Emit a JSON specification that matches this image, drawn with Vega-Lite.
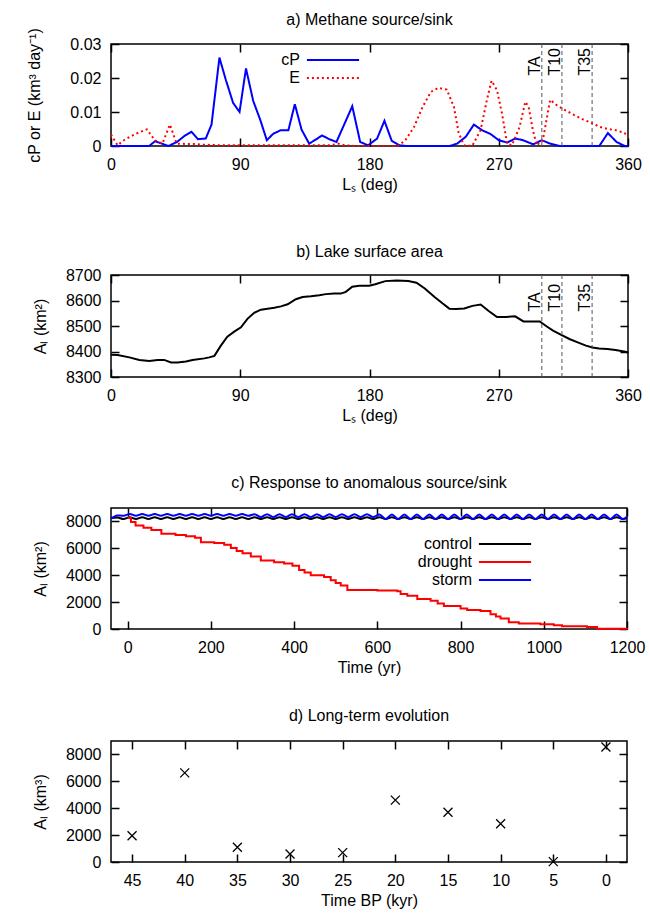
{
  "$schema": "https://vega.github.io/schema/vega-lite/v6.json",
  "background": "white",
  "padding": {"left": 26, "top": 10, "right": 5, "bottom": 2},
  "spacing": 31,
  "resolve": {"scale": {"color": "independent", "strokeDash": "independent"}, "legend": {"color": "independent", "strokeDash": "independent"}},
  "config": {
    "font": "Liberation Sans",
    "view": {"stroke": "#000000", "strokeWidth": 1.5},
    "axis": {"grid": false, "domain": false, "tickSize": -8, "tickWidth": 1.5, "tickColor": "#000000", "labelFontSize": 16, "labelColor": "#000000", "labelPadding": 18, "labelFlush": false, "labelOverlap": false, "titleFontSize": 16, "titleFontWeight": "normal", "titleColor": "#000000"},
    "axisX": {"titlePadding": 4},
    "axisY": {"titlePadding": 17},
    "title": {"fontSize": 16, "fontWeight": "normal", "color": "#000000", "offset": 16, "frame": "group"}
  },
  "datasets": {
    "methane": [
      {"Ls": 0, "value": 0, "series": "cP"}, {"Ls": 10, "value": 0, "series": "cP"}, {"Ls": 20, "value": 0, "series": "cP"}, {"Ls": 26.5, "value": 0, "series": "cP"}, {"Ls": 30.7, "value": 0.0014, "series": "cP"}, {"Ls": 40, "value": 0, "series": "cP"}, {"Ls": 46, "value": 0.0012, "series": "cP"}, {"Ls": 51, "value": 0.0029, "series": "cP"}, {"Ls": 56, "value": 0.0042, "series": "cP"}, {"Ls": 60.5, "value": 0.002, "series": "cP"}, {"Ls": 66, "value": 0.0022, "series": "cP"}, {"Ls": 70, "value": 0.0063, "series": "cP"}, {"Ls": 75.5, "value": 0.026, "series": "cP"}, {"Ls": 80, "value": 0.0194, "series": "cP"}, {"Ls": 85, "value": 0.0127, "series": "cP"}, {"Ls": 89.5, "value": 0.01, "series": "cP"}, {"Ls": 94, "value": 0.0228, "series": "cP"}, {"Ls": 99, "value": 0.0133, "series": "cP"}, {"Ls": 104, "value": 0.0076, "series": "cP"}, {"Ls": 108.5, "value": 0.0017, "series": "cP"}, {"Ls": 113, "value": 0.0036, "series": "cP"}, {"Ls": 118, "value": 0.0046, "series": "cP"}, {"Ls": 123.5, "value": 0.0046, "series": "cP"}, {"Ls": 128, "value": 0.0123, "series": "cP"}, {"Ls": 132.7, "value": 0.0048, "series": "cP"}, {"Ls": 138, "value": 0.0007, "series": "cP"}, {"Ls": 142.6, "value": 0.0019, "series": "cP"}, {"Ls": 147, "value": 0.0031, "series": "cP"}, {"Ls": 152, "value": 0.002, "series": "cP"}, {"Ls": 157, "value": 0.0012, "series": "cP"}, {"Ls": 168, "value": 0.0117, "series": "cP"}, {"Ls": 173.5, "value": 0.0012, "series": "cP"}, {"Ls": 179, "value": 0.0002, "series": "cP"}, {"Ls": 185.3, "value": 0.0022, "series": "cP"}, {"Ls": 190.4, "value": 0.0074, "series": "cP"}, {"Ls": 195.5, "value": 0.0015, "series": "cP"}, {"Ls": 200.8, "value": 0.0002, "series": "cP"}, {"Ls": 206, "value": 0, "series": "cP"}, {"Ls": 220, "value": 0, "series": "cP"}, {"Ls": 236, "value": 0, "series": "cP"}, {"Ls": 241, "value": 0.0007, "series": "cP"}, {"Ls": 247, "value": 0.0027, "series": "cP"}, {"Ls": 252.7, "value": 0.0063, "series": "cP"}, {"Ls": 258.5, "value": 0.0046, "series": "cP"}, {"Ls": 264, "value": 0.0036, "series": "cP"}, {"Ls": 270, "value": 0.0017, "series": "cP"}, {"Ls": 275.8, "value": 0.001, "series": "cP"}, {"Ls": 281.5, "value": 0.0022, "series": "cP"}, {"Ls": 287, "value": 0.0017, "series": "cP"}, {"Ls": 294, "value": 0.0005, "series": "cP"}, {"Ls": 300, "value": 0.0017, "series": "cP"}, {"Ls": 305.8, "value": 0.0007, "series": "cP"}, {"Ls": 312.7, "value": 0, "series": "cP"}, {"Ls": 325, "value": 0, "series": "cP"}, {"Ls": 340, "value": 0, "series": "cP"}, {"Ls": 346, "value": 0.0038, "series": "cP"}, {"Ls": 352, "value": 0.0012, "series": "cP"}, {"Ls": 357.7, "value": 0, "series": "cP"}, {"Ls": 360, "value": 0, "series": "cP"},
      {"Ls": 0, "value": 0.0034, "series": "E"}, {"Ls": 4.6, "value": 0.0002, "series": "E"}, {"Ls": 9, "value": 0.0017, "series": "E"}, {"Ls": 14, "value": 0.0029, "series": "E"}, {"Ls": 20, "value": 0.0041, "series": "E"}, {"Ls": 25, "value": 0.0049, "series": "E"}, {"Ls": 30.5, "value": 0.0017, "series": "E"}, {"Ls": 35.8, "value": 0.0007, "series": "E"}, {"Ls": 41, "value": 0.0063, "series": "E"}, {"Ls": 45.7, "value": 0.0007, "series": "E"}, {"Ls": 52, "value": 0.0006, "series": "E"}, {"Ls": 57.7, "value": 0.0006, "series": "E"}, {"Ls": 63.5, "value": 0.0004, "series": "E"}, {"Ls": 70, "value": 0.0003, "series": "E"}, {"Ls": 80, "value": 0.0002, "series": "E"}, {"Ls": 120, "value": 0.0002, "series": "E"}, {"Ls": 153, "value": 0.0002, "series": "E"}, {"Ls": 158, "value": 0.0007, "series": "E"}, {"Ls": 163, "value": 0.0002, "series": "E"}, {"Ls": 170, "value": 0, "series": "E"}, {"Ls": 199.6, "value": 0, "series": "E"}, {"Ls": 205, "value": 0.0017, "series": "E"}, {"Ls": 211, "value": 0.0056, "series": "E"}, {"Ls": 217, "value": 0.0115, "series": "E"}, {"Ls": 222.7, "value": 0.0159, "series": "E"}, {"Ls": 227.8, "value": 0.0171, "series": "E"}, {"Ls": 233.8, "value": 0.0166, "series": "E"}, {"Ls": 238.8, "value": 0.0115, "series": "E"}, {"Ls": 242, "value": 0.004, "series": "E"}, {"Ls": 245.8, "value": 0.0002, "series": "E"}, {"Ls": 251.5, "value": 0, "series": "E"}, {"Ls": 257.3, "value": 0.0046, "series": "E"}, {"Ls": 262, "value": 0.014, "series": "E"}, {"Ls": 265, "value": 0.0192, "series": "E"}, {"Ls": 268.8, "value": 0.0164, "series": "E"}, {"Ls": 272.3, "value": 0.0095, "series": "E"}, {"Ls": 275.8, "value": 0.0007, "series": "E"}, {"Ls": 279.2, "value": 0.0002, "series": "E"}, {"Ls": 284.5, "value": 0.0056, "series": "E"}, {"Ls": 288.5, "value": 0.013, "series": "E"}, {"Ls": 290.8, "value": 0.0115, "series": "E"}, {"Ls": 293.8, "value": 0.0046, "series": "E"}, {"Ls": 296.5, "value": 0.0002, "series": "E"}, {"Ls": 300.7, "value": 0.0017, "series": "E"}, {"Ls": 305.8, "value": 0.0136, "series": "E"}, {"Ls": 310.4, "value": 0.012, "series": "E"}, {"Ls": 317.3, "value": 0.0103, "series": "E"}, {"Ls": 323, "value": 0.009, "series": "E"}, {"Ls": 328.8, "value": 0.0078, "series": "E"}, {"Ls": 334.6, "value": 0.0068, "series": "E"}, {"Ls": 340.4, "value": 0.0056, "series": "E"}, {"Ls": 346, "value": 0.005, "series": "E"}, {"Ls": 351.9, "value": 0.0046, "series": "E"}, {"Ls": 357.7, "value": 0.0038, "series": "E"}, {"Ls": 360, "value": 0.0025, "series": "E"}
    ],
    "events": [
      {"Ls": 300, "label": "TA"}, {"Ls": 314, "label": "T10"}, {"Ls": 335, "label": "T35"}
    ],
    "lake": [
      {"Ls": 0, "area": 8387}, {"Ls": 4.6, "area": 8386}, {"Ls": 12.8, "area": 8377}, {"Ls": 19.7, "area": 8367}, {"Ls": 26.7, "area": 8363}, {"Ls": 32.5, "area": 8367}, {"Ls": 37, "area": 8367}, {"Ls": 41.8, "area": 8357}, {"Ls": 46.4, "area": 8357}, {"Ls": 52.2, "area": 8361}, {"Ls": 56.8, "area": 8367}, {"Ls": 65, "area": 8373}, {"Ls": 68.4, "area": 8377}, {"Ls": 72, "area": 8383}, {"Ls": 76.5, "area": 8423}, {"Ls": 81, "area": 8458}, {"Ls": 85.8, "area": 8478}, {"Ls": 90.5, "area": 8495}, {"Ls": 95, "area": 8528}, {"Ls": 99.7, "area": 8552}, {"Ls": 104.4, "area": 8564}, {"Ls": 109, "area": 8568}, {"Ls": 113.7, "area": 8572}, {"Ls": 118.3, "area": 8577}, {"Ls": 123, "area": 8585}, {"Ls": 128.7, "area": 8605}, {"Ls": 133.4, "area": 8614}, {"Ls": 139.2, "area": 8617}, {"Ls": 145, "area": 8621}, {"Ls": 149.6, "area": 8625}, {"Ls": 155.4, "area": 8627}, {"Ls": 160, "area": 8627}, {"Ls": 163.5, "area": 8634}, {"Ls": 168, "area": 8654}, {"Ls": 172.8, "area": 8658}, {"Ls": 179.8, "area": 8658}, {"Ls": 184, "area": 8664}, {"Ls": 191, "area": 8676}, {"Ls": 199, "area": 8678}, {"Ls": 207, "area": 8676}, {"Ls": 212.7, "area": 8670}, {"Ls": 218.5, "area": 8647}, {"Ls": 225.3, "area": 8614}, {"Ls": 231, "area": 8588}, {"Ls": 235.6, "area": 8568}, {"Ls": 240.2, "area": 8567}, {"Ls": 246, "area": 8569}, {"Ls": 251.7, "area": 8579}, {"Ls": 257.4, "area": 8584}, {"Ls": 263, "area": 8559}, {"Ls": 268.8, "area": 8535}, {"Ls": 274.6, "area": 8535}, {"Ls": 281.4, "area": 8538}, {"Ls": 287.2, "area": 8518}, {"Ls": 292.9, "area": 8518}, {"Ls": 298.6, "area": 8518}, {"Ls": 303.2, "area": 8499}, {"Ls": 307.8, "area": 8482}, {"Ls": 313.5, "area": 8465}, {"Ls": 319.2, "area": 8449}, {"Ls": 325, "area": 8436}, {"Ls": 330.7, "area": 8423}, {"Ls": 335.3, "area": 8416}, {"Ls": 339.8, "area": 8412}, {"Ls": 345.6, "area": 8410}, {"Ls": 351.3, "area": 8406}, {"Ls": 358.2, "area": 8399}, {"Ls": 360, "area": 8396}
    ],
    "cs": [
      {"t": -40, "control": 8250, "storm": 8200}, {"t": -25, "control": 8300, "storm": 8450}, {"t": -10, "control": 8180, "storm": 8420},
      {"t": 5, "control": 8310, "storm": 8550}, {"t": 20, "control": 8180, "storm": 8420}, {"t": 35, "control": 8310, "storm": 8550}, {"t": 50, "control": 8180, "storm": 8420}, {"t": 65, "control": 8310, "storm": 8550}, {"t": 80, "control": 8180, "storm": 8420}, {"t": 95, "control": 8310, "storm": 8550}, {"t": 110, "control": 8180, "storm": 8420}, {"t": 125, "control": 8310, "storm": 8550}, {"t": 140, "control": 8180, "storm": 8420}, {"t": 155, "control": 8310, "storm": 8550}, {"t": 170, "control": 8180, "storm": 8420}, {"t": 185, "control": 8310, "storm": 8550}, {"t": 200, "control": 8180, "storm": 8420}, {"t": 215, "control": 8310, "storm": 8550}, {"t": 230, "control": 8180, "storm": 8420}, {"t": 245, "control": 8310, "storm": 8550}, {"t": 260, "control": 8180, "storm": 8420}, {"t": 275, "control": 8310, "storm": 8550}, {"t": 290, "control": 8180, "storm": 8420},
      {"t": 305, "control": 8310, "storm": 8540}, {"t": 320, "control": 8180, "storm": 8330}, {"t": 335, "control": 8310, "storm": 8540}, {"t": 350, "control": 8180, "storm": 8330}, {"t": 365, "control": 8310, "storm": 8540}, {"t": 380, "control": 8180, "storm": 8330}, {"t": 395, "control": 8310, "storm": 8540}, {"t": 410, "control": 8180, "storm": 8330}, {"t": 425, "control": 8310, "storm": 8540}, {"t": 440, "control": 8180, "storm": 8330}, {"t": 455, "control": 8310, "storm": 8540}, {"t": 470, "control": 8180, "storm": 8330}, {"t": 485, "control": 8310, "storm": 8540}, {"t": 500, "control": 8180, "storm": 8330}, {"t": 515, "control": 8310, "storm": 8540}, {"t": 530, "control": 8180, "storm": 8330}, {"t": 545, "control": 8310, "storm": 8540}, {"t": 560, "control": 8180, "storm": 8330}, {"t": 575, "control": 8310, "storm": 8540}, {"t": 590, "control": 8180, "storm": 8330},
      {"t": 605, "control": 8310, "storm": 8510}, {"t": 620, "control": 8180, "storm": 8180}, {"t": 635, "control": 8310, "storm": 8510}, {"t": 650, "control": 8180, "storm": 8180}, {"t": 665, "control": 8310, "storm": 8510}, {"t": 680, "control": 8180, "storm": 8180}, {"t": 695, "control": 8310, "storm": 8510}, {"t": 710, "control": 8180, "storm": 8180}, {"t": 725, "control": 8310, "storm": 8510}, {"t": 740, "control": 8180, "storm": 8180}, {"t": 755, "control": 8310, "storm": 8510}, {"t": 770, "control": 8180, "storm": 8180}, {"t": 785, "control": 8310, "storm": 8510}, {"t": 800, "control": 8180, "storm": 8180}, {"t": 815, "control": 8310, "storm": 8510}, {"t": 830, "control": 8180, "storm": 8180}, {"t": 845, "control": 8310, "storm": 8510}, {"t": 860, "control": 8180, "storm": 8180}, {"t": 875, "control": 8310, "storm": 8510}, {"t": 890, "control": 8180, "storm": 8180}, {"t": 905, "control": 8310, "storm": 8510}, {"t": 920, "control": 8180, "storm": 8180}, {"t": 935, "control": 8310, "storm": 8510}, {"t": 950, "control": 8180, "storm": 8180}, {"t": 965, "control": 8310, "storm": 8510}, {"t": 980, "control": 8180, "storm": 8180}, {"t": 995, "control": 8310, "storm": 8510}, {"t": 1010, "control": 8180, "storm": 8180}, {"t": 1025, "control": 8310, "storm": 8510}, {"t": 1040, "control": 8180, "storm": 8180}, {"t": 1055, "control": 8310, "storm": 8510}, {"t": 1070, "control": 8180, "storm": 8180}, {"t": 1085, "control": 8310, "storm": 8510}, {"t": 1100, "control": 8180, "storm": 8180}, {"t": 1115, "control": 8310, "storm": 8510}, {"t": 1130, "control": 8180, "storm": 8180}, {"t": 1145, "control": 8310, "storm": 8510}, {"t": 1160, "control": 8180, "storm": 8180}, {"t": 1175, "control": 8310, "storm": 8510}, {"t": 1190, "control": 8180, "storm": 8180}, {"t": 1200, "control": 8250, "storm": 8350}
    ],
    "drought": [
      {"t": 0, "area": 8250}, {"t": 8, "area": 7950}, {"t": 19, "area": 7700}, {"t": 38, "area": 7540}, {"t": 57, "area": 7360}, {"t": 81, "area": 7080}, {"t": 115, "area": 7000}, {"t": 140, "area": 6900}, {"t": 162, "area": 6780}, {"t": 176, "area": 6450}, {"t": 208, "area": 6400}, {"t": 232, "area": 6270}, {"t": 248, "area": 6020}, {"t": 262, "area": 5800}, {"t": 276, "area": 5640}, {"t": 296, "area": 5390}, {"t": 320, "area": 5090}, {"t": 352, "area": 4960}, {"t": 376, "area": 4880}, {"t": 396, "area": 4700}, {"t": 412, "area": 4380}, {"t": 425, "area": 4200}, {"t": 440, "area": 4000}, {"t": 472, "area": 3870}, {"t": 488, "area": 3620}, {"t": 500, "area": 3420}, {"t": 512, "area": 3240}, {"t": 528, "area": 2910}, {"t": 600, "area": 2860}, {"t": 648, "area": 2810}, {"t": 656, "area": 2610}, {"t": 672, "area": 2480}, {"t": 696, "area": 2230}, {"t": 728, "area": 2100}, {"t": 745, "area": 1900}, {"t": 760, "area": 1720}, {"t": 800, "area": 1520}, {"t": 816, "area": 1420}, {"t": 848, "area": 1340}, {"t": 872, "area": 1090}, {"t": 885, "area": 930}, {"t": 896, "area": 780}, {"t": 916, "area": 510}, {"t": 940, "area": 400}, {"t": 992, "area": 350}, {"t": 1024, "area": 280}, {"t": 1044, "area": 200}, {"t": 1104, "area": 150}, {"t": 1128, "area": 20}, {"t": 1200, "area": 0}
    ],
    "longterm": [
      {"kyr": 45, "area": 1950}, {"kyr": 40, "area": 6630}, {"kyr": 35, "area": 1100}, {"kyr": 30, "area": 600}, {"kyr": 25, "area": 700}, {"kyr": 20, "area": 4600}, {"kyr": 15, "area": 3700}, {"kyr": 10, "area": 2850}, {"kyr": 5, "area": 30}, {"kyr": 0, "area": 8550}
    ]
  },
  "vconcat": [
    {
      "width": 517, "height": 102,
      "title": {"text": "a) Methane source/sink", "offset": 0},
      "resolve": {"axis": {"x": "independent", "y": "independent"}},
      "layer": [
        {
          "data": {"name": "methane"},
          "mark": {"type": "line", "strokeWidth": 2},
          "encoding": {
            "x": {"field": "Ls", "type": "quantitative", "scale": {"domain": [0, 360], "nice": false}, "axis": {"values": [0, 90, 180, 270, 360], "title": ["Lₛ (deg)", " "], "titleLineHeight": 19}},
            "y": {"field": "value", "type": "quantitative", "scale": {"domain": [0, 0.03], "nice": false}, "axis": {"values": [0, 0.01, 0.02, 0.03], "format": ".2~f", "title": "cP or E (km³ day⁻¹)", "titlePadding": 27}},
            "color": {"field": "series", "type": "nominal", "scale": {"domain": ["cP", "E"], "range": ["#0000ff", "#ff0000"]}, "legend": {"title": null, "orient": "none", "legendX": 212, "legendY": 6, "symbolType": "M -2.9 0 L 2.9 0", "symbolSize": 324, "symbolStrokeWidth": 2, "labelFontSize": 16, "labelColor": "#000000", "labelAlign": "right", "labelOffset": -43, "rowPadding": 0, "padding": 0}},
            "strokeDash": {"field": "series", "type": "nominal", "scale": {"domain": ["cP", "E"], "range": [[1, 0], [2, 3]]}, "legend": {"title": null, "orient": "none", "legendX": 212, "legendY": 6, "symbolType": "M -2.9 0 L 2.9 0", "symbolSize": 324, "symbolStrokeWidth": 2, "labelFontSize": 16, "labelColor": "#000000", "labelAlign": "right", "labelOffset": -43, "rowPadding": 0, "padding": 0}}
          }
        },
        {
          "data": {"name": "events"},
          "mark": {"type": "rule", "strokeDash": [4, 3], "color": "#555555", "strokeWidth": 1},
          "encoding": {
            "x": {"field": "Ls", "type": "quantitative", "axis": {"orient": "top", "values": [0, 90, 180, 270, 360], "labels": false, "labelPadding": 0, "title": null}}
          }
        },
        {
          "data": {"name": "events"},
          "mark": {"type": "text", "angle": 270, "align": "left", "baseline": "alphabetic", "dy": -2, "fontSize": 16, "color": "#000000"},
          "encoding": {
            "x": {"field": "Ls", "type": "quantitative", "axis": null},
            "y": {"datum": 0.0207, "type": "quantitative", "axis": {"orient": "right", "values": [0, 0.01, 0.02, 0.03], "labels": false, "labelPadding": 0, "title": null}},
            "text": {"field": "label"}
          }
        }
      ]
    },
    {
      "width": 517, "height": 102,
      "title": {"text": "b) Lake surface area", "offset": 7},
      "resolve": {"axis": {"x": "independent", "y": "independent"}},
      "layer": [
        {
          "data": {"name": "lake"},
          "mark": {"type": "line", "strokeWidth": 2, "color": "#000000"},
          "encoding": {
            "x": {"field": "Ls", "type": "quantitative", "scale": {"domain": [0, 360], "nice": false}, "axis": {"values": [0, 90, 180, 270, 360], "title": ["Lₛ (deg)", " "], "titleLineHeight": 19}},
            "y": {"field": "area", "type": "quantitative", "scale": {"domain": [8300, 8700], "nice": false, "zero": false}, "axis": {"values": [8300, 8400, 8500, 8600, 8700], "format": "d", "title": "Aₗ (km²)"}}
          }
        },
        {
          "data": {"name": "events"},
          "mark": {"type": "rule", "strokeDash": [4, 3], "color": "#555555", "strokeWidth": 1},
          "encoding": {
            "x": {"field": "Ls", "type": "quantitative", "axis": {"orient": "top", "values": [0, 90, 180, 270, 360], "labels": false, "labelPadding": 0, "title": null}}
          }
        },
        {
          "data": {"name": "events"},
          "mark": {"type": "text", "angle": 270, "align": "left", "baseline": "alphabetic", "dy": -2, "fontSize": 16, "color": "#000000"},
          "encoding": {
            "x": {"field": "Ls", "type": "quantitative", "axis": null},
            "y": {"datum": 8557, "type": "quantitative", "axis": {"orient": "right", "values": [8300, 8400, 8500, 8600, 8700], "labels": false, "labelPadding": 0, "title": null}},
            "text": {"field": "label"}
          }
        }
      ]
    },
    {
      "width": 516, "height": 121,
      "title": {"text": "c) Response to anomalous source/sink"},
      "resolve": {"axis": {"x": "independent", "y": "independent"}},
      "layer": [
        {
          "data": {"name": "cs"},
          "transform": [{"fold": ["control", "storm"], "as": ["series", "area"]}],
          "mark": {"type": "line", "strokeWidth": 2, "interpolate": "monotone"},
          "encoding": {
            "x": {"field": "t", "type": "quantitative", "scale": {"domain": [-40, 1200], "nice": false}, "axis": {"values": [0, 200, 400, 600, 800, 1000, 1200], "format": "d", "title": "Time (yr)"}},
            "y": {"field": "area", "type": "quantitative", "scale": {"domain": [0, 9000], "nice": false}, "axis": {"values": [0, 2000, 4000, 6000, 8000], "format": "d", "title": "Aₗ (km²)"}},
            "color": {"field": "series", "type": "nominal", "scale": {"domain": ["control", "drought", "storm"], "range": ["#000000", "#ff0000", "#0000ff"]}, "legend": {"title": null, "orient": "none", "legendX": 384, "legendY": 26, "symbolType": "M -2.9 0 L 2.9 0", "symbolSize": 324, "symbolStrokeWidth": 2, "labelFontSize": 16, "labelColor": "#000000", "labelAlign": "right", "labelOffset": -43, "rowPadding": 0, "padding": 0}}
          }
        },
        {
          "data": {"name": "drought"},
          "mark": {"type": "line", "strokeWidth": 2, "interpolate": "step-after"},
          "encoding": {
            "x": {"field": "t", "type": "quantitative", "axis": {"orient": "top", "values": [0, 200, 400, 600, 800, 1000, 1200], "labels": false, "labelPadding": 0, "title": null}},
            "y": {"field": "area", "type": "quantitative", "axis": {"orient": "right", "values": [0, 2000, 4000, 6000, 8000], "labels": false, "labelPadding": 0, "title": null}},
            "color": {"datum": "drought", "type": "nominal"}
          }
        }
      ]
    },
    {
      "width": 516, "height": 121,
      "title": {"text": "d) Long-term evolution"},
      "resolve": {"axis": {"x": "independent", "y": "independent"}},
      "layer": [
        {
          "data": {"name": "longterm"},
          "mark": {"type": "point", "shape": "M -1 -1 L 1 1 M -1 1 L 1 -1", "size": 81, "filled": false, "stroke": "#000000", "strokeWidth": 1.3, "opacity": 1},
          "encoding": {
            "x": {"field": "kyr", "type": "quantitative", "scale": {"domain": [-2, 47], "reverse": true, "nice": false, "zero": false}, "axis": {"values": [45, 40, 35, 30, 25, 20, 15, 10, 5, 0], "format": "d", "title": "Time BP (kyr)"}},
            "y": {"field": "area", "type": "quantitative", "scale": {"domain": [0, 9000], "nice": false}, "axis": {"values": [0, 2000, 4000, 6000, 8000], "format": "d", "title": "Aₗ (km³)"}}
          }
        },
        {
          "data": {"name": "longterm"},
          "mark": {"type": "point", "opacity": 0},
          "encoding": {
            "x": {"field": "kyr", "type": "quantitative", "axis": {"orient": "top", "values": [45, 40, 35, 30, 25, 20, 15, 10, 5, 0], "labels": false, "labelPadding": 0, "title": null}},
            "y": {"field": "area", "type": "quantitative", "axis": {"orient": "right", "values": [0, 2000, 4000, 6000, 8000], "labels": false, "labelPadding": 0, "title": null}}
          }
        }
      ]
    }
  ]
}
